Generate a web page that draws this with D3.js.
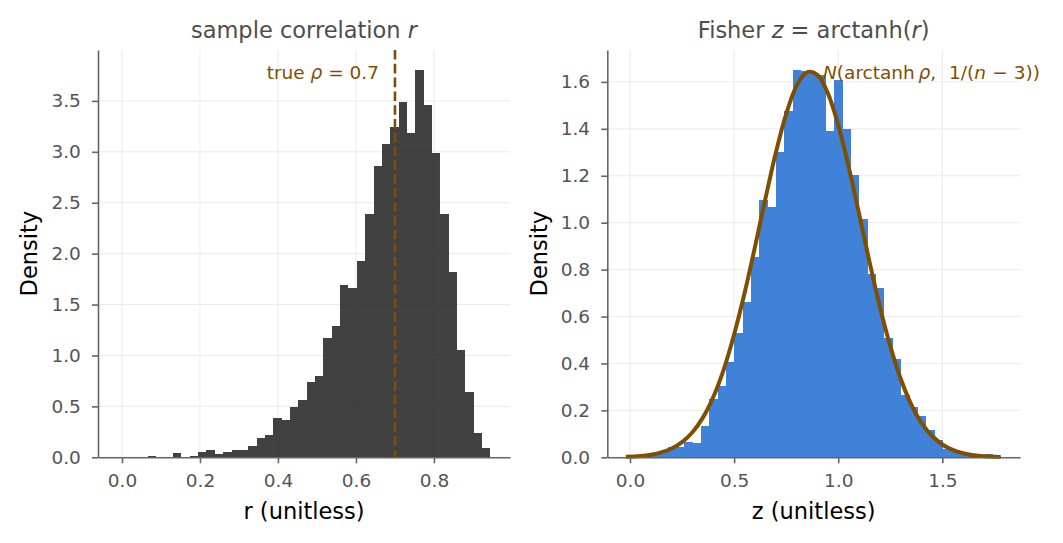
<!DOCTYPE html>
<html><head><meta charset="utf-8">
<script src="https://cdn.jsdelivr.net/npm/d3@7"></script>
<style>
body{margin:0;background:#fff}
svg{display:block}
text{font-family:"DejaVu Sans",sans-serif}
</style>
</head><body>
<svg id="chart" width="1063" height="543"></svg>
<script>
// ---------- data ----------
const rhoTrue = 0.7;
const rBinStart = -0.019, rBinWidth = 0.02142;
const rDensity = [0, 0, 0, 0.005, 0.015, 0.007, 0.005, 0.039, 0.007, 0.016,
  0.056, 0.075, 0.036, 0.056, 0.075, 0.075, 0.115, 0.193, 0.223, 0.39,
  0.37, 0.498, 0.566, 0.743, 0.802, 1.175, 1.293, 1.696, 1.667, 1.932,
  2.39, 2.86, 3.08, 3.24, 3.49, 3.18, 3.80, 3.46, 2.99, 2.39,
  1.82, 1.05, 0.644, 0.242, 0.094];
const zBinStart = -0.019, zBinWidth = 0.04004;
const zDensity = [0.005, 0.003, 0.01, 0.015, 0.025, 0.043, 0.045, 0.065, 0.061, 0.134,
  0.25, 0.304, 0.408, 0.531, 0.662, 0.855, 1.097, 1.065, 1.303, 1.477,
  1.65, 1.645, 1.635, 1.63, 1.392, 1.608, 1.398, 1.203, 1.016, 0.781,
  0.722, 0.507, 0.419, 0.266, 0.216, 0.176, 0.116, 0.074, 0.035, 0.025,
  0.02, 0.01, 0.006, 0.013, 0.004];
const curveZ = [-0.02, 0.05, 0.1, 0.15, 0.2, 0.25, 0.3, 0.35, 0.4, 0.45, 0.5, 0.55, 0.6, 0.65,
  0.7, 0.75, 0.8, 0.85, 0.9, 0.95, 1.0, 1.05, 1.1, 1.15, 1.2, 1.25, 1.3, 1.35, 1.4,
  1.45, 1.5, 1.55, 1.6, 1.65, 1.7, 1.75, 1.78];
const curveDensity = [0.002, 0.0056, 0.011, 0.0207, 0.0373, 0.0645, 0.1066, 0.169, 0.257, 0.374,
  0.523, 0.699, 0.896, 1.101, 1.297, 1.463, 1.583, 1.641, 1.630, 1.552, 1.416, 1.239,
  1.038, 0.834, 0.642, 0.474, 0.335, 0.227, 0.147, 0.0918, 0.0547, 0.0313, 0.0172,
  0.0090, 0.0045, 0.0022, 0.0014];
const rXTicks = [0, 0.2, 0.4, 0.6, 0.8];
const rYTicks = [0, 0.5, 1.0, 1.5, 2.0, 2.5, 3.0, 3.5];
const zXTicks = [0, 0.5, 1.0, 1.5];
const zYTicks = [0, 0.2, 0.4, 0.6, 0.8, 1.0, 1.2, 1.4, 1.6];

// ---------- style ----------
const TICK_FS = 18.5, TITLE_FS = 22.5, LABEL_FS = 22.5, ANN_FS = 18.5;
const SPINE = "#666666", GRID = "#ebebeb", TICKTXT = "#555555", TITLE_C = "#4d4d4d";
const BROWN = "#7f4e00";

const svg = d3.select("#chart");
const fmt = d3.format(".1f");

function panel(o) {
  const x = d3.scaleLinear().domain(o.xDomain).range([o.left, o.right]);
  const y = d3.scaleLinear().domain(o.yDomain).range([o.bottom, o.top]);
  const g = svg.append("g");

  // grid
  g.append("g").selectAll("line").data(o.xTicks).join("line")
    .attr("x1", d => x(d)).attr("x2", d => x(d)).attr("y1", o.top).attr("y2", o.bottom)
    .attr("stroke", GRID).attr("stroke-width", 1);
  g.append("g").selectAll("line").data(o.yTicks).join("line")
    .attr("x1", o.left).attr("x2", o.right).attr("y1", d => y(d)).attr("y2", d => y(d))
    .attr("stroke", GRID).attr("stroke-width", 1);

  // bars
  g.append("g").attr("shape-rendering", "crispEdges")
    .selectAll("rect").data(o.density).join("rect")
    .attr("x", (d, i) => x(o.binStart + i * o.binWidth))
    .attr("width", (d, i) => x(o.binStart + (i + 1) * o.binWidth) - x(o.binStart + i * o.binWidth))
    .attr("y", d => y(d))
    .attr("height", d => y(0) - y(d))
    .attr("fill", o.fill).attr("fill-opacity", o.opacity);

  if (o.extra) o.extra(g, x, y);

  // axes
  const ax = g.append("g").attr("transform", `translate(0,${o.bottom})`)
    .call(d3.axisBottom(x).tickValues(o.xTicks).tickFormat(fmt).tickSize(6).tickSizeOuter(0).tickPadding(10.3));
  const ay = g.append("g").attr("transform", `translate(${o.left},0)`)
    .call(d3.axisLeft(y).tickValues(o.yTicks).tickFormat(fmt).tickSize(6).tickSizeOuter(0).tickPadding(11.2));
  [ax, ay].forEach(a => {
    a.select(".domain").attr("stroke", SPINE).attr("stroke-width", 1.6);
    a.selectAll(".tick line").attr("stroke", SPINE).attr("stroke-width", 1.6);
    a.selectAll(".tick text").attr("fill", TICKTXT).attr("font-size", TICK_FS)
      .attr("font-family", '"DejaVu Sans",sans-serif');
  });

  // title
  const cx = (o.left + o.right) / 2;
  const t = g.append("text").attr("x", cx).attr("y", 38).attr("text-anchor", "middle")
    .attr("font-size", TITLE_FS).attr("fill", TITLE_C);
  o.title.forEach(p => t.append("tspan").text(p[0]).attr("font-style", p[1] ? "italic" : "normal"));

  // axis labels
  g.append("text").attr("x", cx).attr("y", 519).attr("text-anchor", "middle")
    .attr("font-size", LABEL_FS).attr("fill", "#000").text(o.xLabel);
  g.append("text").attr("transform", `translate(${o.yLabelX},${(o.top + o.bottom) / 2}) rotate(-90)`)
    .attr("text-anchor", "middle").attr("font-size", LABEL_FS).attr("fill", "#000").text("Density");
}

// left panel
panel({
  left: 98, right: 510, top: 50, bottom: 457.3,
  xDomain: [-0.0615, 0.995], yDomain: [0, 4.0],
  xTicks: rXTicks, yTicks: rYTicks,
  binStart: rBinStart, binWidth: rBinWidth, density: rDensity,
  fill: "#222222", opacity: 0.86,
  title: [["sample correlation ", false], ["r", true]],
  xLabel: "r (unitless)", yLabelX: 37,
  extra: (g, x, y) => {
    g.append("line").attr("x1", x(rhoTrue)).attr("x2", x(rhoTrue))
      .attr("y1", y.range()[1]).attr("y2", y(0))
      .attr("stroke", BROWN).attr("stroke-width", 2.6).attr("stroke-dasharray", "9.6,4.2");
    const t = g.append("text").attr("x", x(rhoTrue) - 16).attr("y", 79)
      .attr("text-anchor", "end").attr("font-size", ANN_FS).attr("fill", BROWN)
      .style("white-space", "pre");
    t.append("tspan").text("true ");
    t.append("tspan").text("ρ").attr("font-style", "italic");
    t.append("tspan").text(" = 0.7");
  }
});

// right panel
panel({
  left: 607.3, right: 1020, top: 50, bottom: 457.3,
  xDomain: [-0.109, 1.873], yDomain: [0, 1.736],
  xTicks: zXTicks, yTicks: zYTicks,
  binStart: zBinStart, binWidth: zBinWidth, density: zDensity,
  fill: "#2a74d4", opacity: 0.9,
  title: [["Fisher ", false], ["z", true], [" = arctanh(", false], ["r", true], [")", false]],
  xLabel: "z (unitless)", yLabelX: 547,
  extra: (g, x, y) => {
    const line = d3.line().x((d, i) => x(curveZ[i])).y(d => y(d)).curve(d3.curveCatmullRom);
    g.append("path").datum(curveDensity).attr("d", line)
      .attr("fill", "none").attr("stroke", BROWN).attr("stroke-width", 4);
    const t = g.append("text").attr("x", 823).attr("y", 79)
      .attr("font-size", ANN_FS).attr("fill", BROWN).style("white-space", "pre");
    t.append("tspan").text("N").attr("font-style", "italic");
    t.append("tspan").text("(arctanh\u2009");
    t.append("tspan").text("ρ").attr("font-style", "italic");
    t.append("tspan").text(",\u2002\u20091/(");
    t.append("tspan").text("n").attr("font-style", "italic");
    t.append("tspan").text("\u2004−\u20043))");
  }
});
</script>
</body></html>
